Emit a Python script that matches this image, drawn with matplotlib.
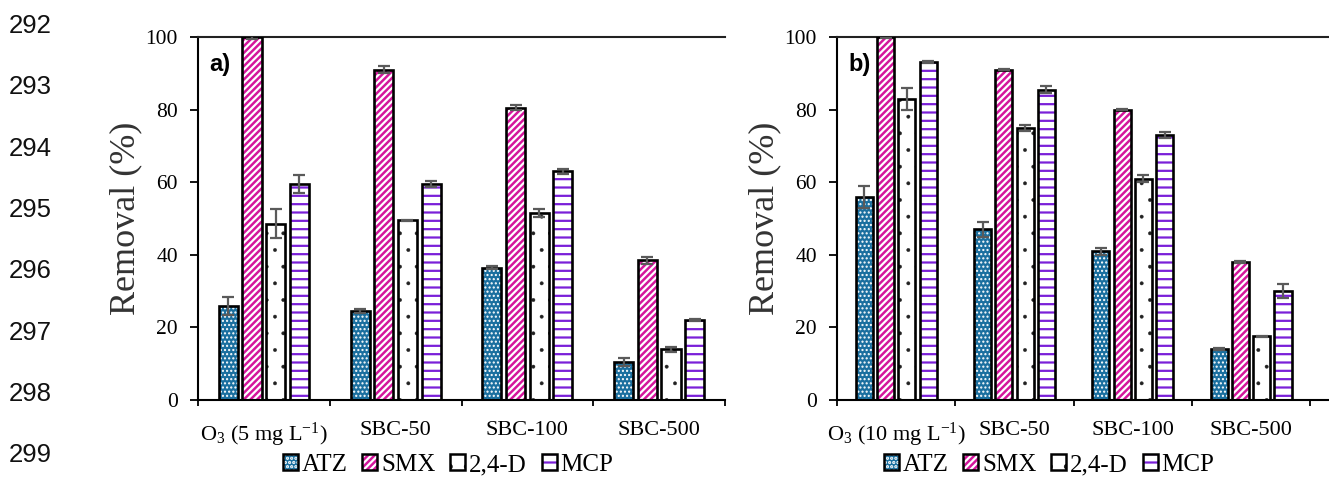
import matplotlib
matplotlib.use('Agg')
import matplotlib.pyplot as plt
import numpy as np
from matplotlib.patches import Patch

plt.rcParams['mathtext.fontset'] = 'custom'
plt.rcParams['mathtext.rm'] = 'Liberation Serif'
plt.rcParams['mathtext.it'] = 'Liberation Serif:italic'
plt.rcParams['hatch.linewidth'] = 1.6

# data
pollutants = ['ATZ', 'SMX', '2,4-D', 'MCP']
cats_a = [r'O$_3$ (5 mg L$^{-1}$)', 'SBC-50', 'SBC-100', 'SBC-500']
cats_b = [r'O$_3$ (10 mg L$^{-1}$)', 'SBC-50', 'SBC-100', 'SBC-500']

# rows = pollutant, cols = category
vals_a = [[26, 24.5, 36.5, 10.5],
          [100, 91, 80.5, 38.5],
          [48.5, 49.5, 51.5, 14],
          [59.5, 59.5, 63, 22]]
err_a = [[2.5, 0.5, 0.5, 1.0],
         [0.5, 1.0, 0.7, 1.0],
         [4.0, 0.2, 1.0, 0.7],
         [2.5, 0.8, 0.7, 0.2]]

vals_b = [[56, 47, 41, 14],
          [100, 91, 80, 38],
          [83, 75, 61, 17.5],
          [93, 85.5, 73, 30]]
err_b = [[3.0, 2.0, 1.0, 0.3],
         [0.3, 0.2, 0.2, 0.2],
         [3.0, 0.8, 1.0, 0.2],
         [0.3, 1.0, 0.8, 2.0]]

yticks = [0, 20, 40, 60, 80, 100]
line_numbers = ['292', '293', '294', '295', '296', '297', '298', '299']

# styles: (face, hatch colour, hatch, hatch linewidth)
styles = [('#1a6f9f', 'white', '....', 1.0),
          ('#d4169c', 'white', '/////', 1.6),
          ('white', '#222222', '.', 0.3),
          ('white', '#7a1fd8', '--', 1.6)]

W, H = 1329, 486
fig = plt.figure(figsize=(W / 100, H / 100), dpi=100)

serif = 'Liberation Serif'


def px_axes(x0, x1, y0, y1):
    return fig.add_axes([x0 / W, 1 - y1 / H, (x1 - x0) / W, (y1 - y0) / H])


def hatched(p, hlw):
    if hasattr(p, 'set_hatch_linewidth'):
        p.set_hatch_linewidth(hlw)
    return p


def panel(ax, cats, vals, errs, tag, xmax, ylab_x):
    n = len(cats)
    width = 0.145
    step = 0.18
    centers = np.arange(n) + 0.5
    for i in range(len(pollutants)):
        face, hc, hatch, hlw = styles[i]
        xs = centers + (i - 1.5) * step
        bars = ax.bar(xs, vals[i], width, color=face, edgecolor=hc, hatch=hatch,
                      linewidth=0, zorder=2)
        for b in bars:
            hatched(b, hlw)
        ax.bar(xs, vals[i], width, fill=False, edgecolor='black',
               linewidth=1.9, zorder=3)
        ax.errorbar(xs, vals[i], yerr=errs[i], fmt='none', ecolor='#5a5a5a',
                    elinewidth=1.6, capsize=4.5, capthick=1.6, zorder=4)

    ax.set_xlim(0, xmax)
    ax.set_ylim(0, 100)
    ax.set_yticks(yticks)
    ax.set_yticklabels([str(t) for t in yticks], fontfamily=serif, fontsize=15.5)
    ax.tick_params(axis='y', direction='out', length=5.5, width=1.3, pad=9)

    ax.set_xticks(np.arange(n + 1))
    ax.set_xticklabels([])
    ax.tick_params(axis='x', which='major', direction='out', length=4, width=1.3)
    ax.set_xticks(centers, minor=True)
    ax.set_xticklabels(cats, minor=True, fontfamily=serif, fontsize=16)
    ax.tick_params(axis='x', which='minor', length=0, pad=15)

    ax.spines['right'].set_visible(False)
    for s in ['left', 'bottom', 'top']:
        ax.spines[s].set_linewidth(1.5)
    ax.spines['top'].set_color('#222222')

    ax.set_ylabel('Removal (%)', fontfamily=serif, fontsize=26, color='#333333')
    ax.yaxis.set_label_coords(ylab_x, 0.5)

    ax.text(11 / (ax.get_position().width * W), 0.925, tag, transform=ax.transAxes,
            fontsize=17, fontweight='bold', fontfamily='Liberation Sans', va='center')

    handles = []
    for i in range(len(pollutants)):
        face, hc, hatch, hlw = styles[i]
        handles.append((hatched(Patch(facecolor=face, edgecolor=hc, hatch=hatch,
                                      linewidth=0), hlw),
                        Patch(fill=False, edgecolor='black', linewidth=1.8)))
    return handles


leg_kw = dict(loc='center', ncol=4, frameon=False, prop={'family': serif, 'size': 18},
              handlelength=0.6, handleheight=0.6, handletextpad=0.15,
              columnspacing=0.6)

ax_a = px_axes(198, 725, 37, 400)
h = panel(ax_a, cats_a, vals_a, err_a, 'a)', 4.0, -56 / 527)
fig.legend(h, pollutants, bbox_to_anchor=(448 / W, 1 - 465 / H), **leg_kw)

ax_b = px_axes(837, 1329, 37, 400)
h = panel(ax_b, cats_b, vals_b, err_b, 'b)', 492 / 118.3, -56 / 492)
fig.legend(h, pollutants, bbox_to_anchor=(1049 / W, 1 - 465 / H), **leg_kw)

# manuscript line numbers down the left margin
for k, lab in enumerate(line_numbers):
    y = 26 + k * 61.3
    fig.text(9 / W, 1 - y / H, lab, fontsize=18.5, fontfamily='Liberation Sans',
             va='center', ha='left', color='#111111')

fig.savefig('out.png', dpi=100)
